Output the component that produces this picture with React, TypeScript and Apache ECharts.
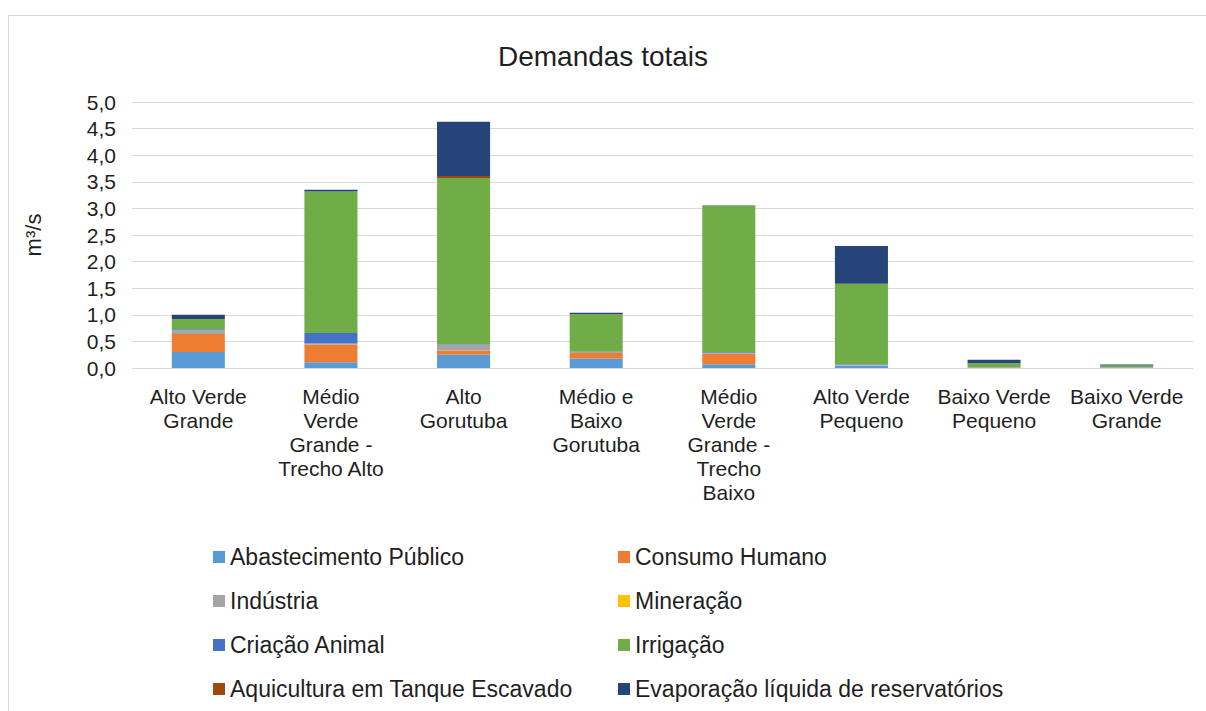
import React, { useEffect, useRef } from "react";
import * as echarts from "echarts";

const categories = [
  "Alto Verde\nGrande",
  "Médio\nVerde\nGrande -\nTrecho Alto",
  "Alto\nGorutuba",
  "Médio e\nBaixo\nGorutuba",
  "Médio\nVerde\nGrande -\nTrecho\nBaixo",
  "Alto Verde\nPequeno",
  "Baixo Verde\nPequeno",
  "Baixo Verde\nGrande",
];

const abastecimento = [0.3, 0.11, 0.25, 0.18, 0.07, 0.04, 0.005, 0.005];
const consumoHumano = [0.34, 0.33, 0.08, 0.1, 0.2, 0.005, 0.005, 0.005];
const industria = [0.07, 0.02, 0.11, 0.02, 0.005, 0.02, 0, 0];
const mineracao = [0, 0, 0, 0, 0, 0, 0, 0];
const criacaoAnimal = [0.02, 0.2, 0.01, 0.01, 0.02, 0.01, 0.005, 0.005];
const irrigacao = [0.19, 2.66, 3.12, 0.7, 2.76, 1.51, 0.075, 0.03];
const aquicultura = [0, 0, 0.04, 0, 0, 0, 0, 0];
const evaporacao = [0.08, 0.03, 1.02, 0.03, 0.005, 0.71, 0.065, 0.02];

const seriesNames = [
  "Abastecimento Público",
  "Consumo Humano",
  "Indústria",
  "Mineração",
  "Criação Animal",
  "Irrigação",
  "Aquicultura em Tanque Escavado",
  "Evaporação líquida de reservatórios",
];
const seriesData = [
  abastecimento,
  consumoHumano,
  industria,
  mineracao,
  criacaoAnimal,
  irrigacao,
  aquicultura,
  evaporacao,
];
const colors = [
  "#5B9BD5",
  "#ED7D31",
  "#A5A5A5",
  "#FFC000",
  "#4472C4",
  "#70AD47",
  "#9E480E",
  "#264478",
];

const FONT = "'Liberation Sans', Arial, sans-serif";
const TEXT = "#1f1f1f";

export default function App() {
  const ref = useRef<HTMLDivElement>(null);
  useEffect(() => {
    document.body.style.margin = "0";
    const chart = echarts.init(ref.current!, undefined, { renderer: "svg" });
    const legendCommon = {
      orient: "vertical" as const,
      top: 545,
      padding: 0,
      itemWidth: 12,
      itemHeight: 12,
      itemGap: 20,
      icon: "rect",
      textStyle: { fontSize: 23, color: TEXT, fontFamily: FONT, lineHeight: 24 },
    };
    chart.setOption({
      animation: false,
      color: colors,
      textStyle: { fontFamily: FONT },
      title: {
        text: "Demandas totais",
        left: "center",
        top: 37,
        textStyle: { fontSize: 28, fontWeight: "normal", color: TEXT, fontFamily: FONT },
      },
      graphic: [
        {
          type: "rect",
          shape: { x: 8.5, y: 15.5, width: 1300, height: 800 },
          style: { fill: "none", stroke: "#d9d9d9", lineWidth: 1 },
          silent: true,
        },
      ],
      legend: [
        { ...legendCommon, left: 213, data: [seriesNames[0], seriesNames[2], seriesNames[4], seriesNames[6]] },
        { ...legendCommon, left: 618, data: [seriesNames[1], seriesNames[3], seriesNames[5], seriesNames[7]] },
      ],
      grid: { left: 132, right: 13, top: 102, bottom: 343 },
      xAxis: {
        type: "category",
        data: categories,
        axisTick: { show: false },
        axisLine: { lineStyle: { color: "#d9d9d9" } },
        axisLabel: {
          fontSize: 21,
          color: TEXT,
          fontFamily: FONT,
          lineHeight: 24,
          margin: 16,
          interval: 0,
        },
      },
      yAxis: {
        type: "value",
        min: 0,
        max: 5,
        interval: 0.5,
        name: "m³/s",
        nameLocation: "middle",
        nameGap: 88,
        nameRotate: 90,
        nameTextStyle: { fontSize: 22, color: TEXT, fontFamily: FONT },
        axisLine: { show: false },
        axisTick: { show: false },
        splitLine: { lineStyle: { color: "#d9d9d9" } },
        axisLabel: {
          fontSize: 21,
          color: TEXT,
          fontFamily: FONT,
          margin: 16,
          formatter: (v: number) => v.toFixed(1).replace(".", ","),
        },
      },
      series: seriesNames.map((name, i) => ({
        name,
        type: "bar",
        stack: "total",
        barWidth: "40%",
        data: seriesData[i],
        itemStyle: { color: colors[i] },
      })),
    });
    return () => chart.dispose();
  }, []);
  return <div ref={ref} style={{ width: 1206, height: 711 }} />;
}
